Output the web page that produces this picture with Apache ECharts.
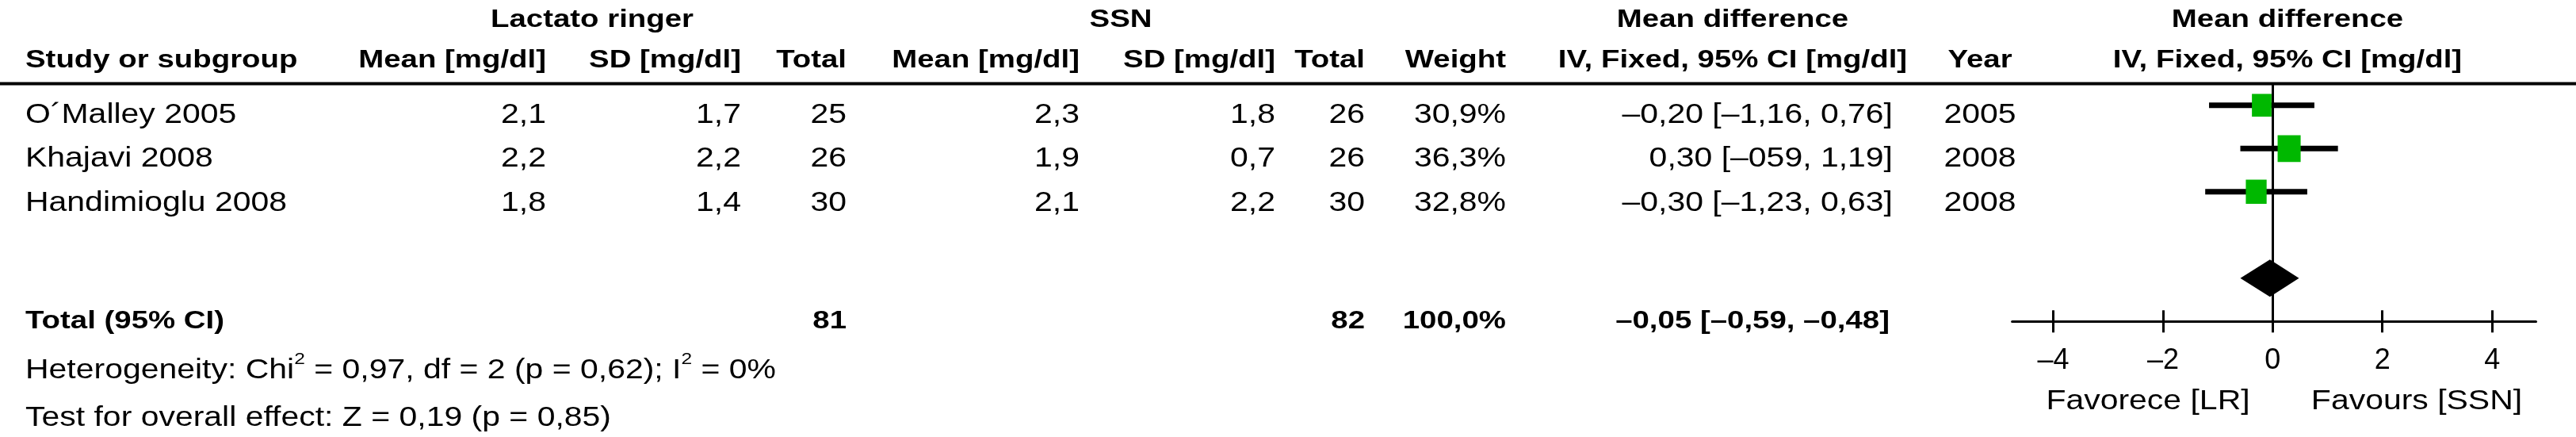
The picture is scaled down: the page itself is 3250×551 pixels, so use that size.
<!DOCTYPE html>
<html>
<head>
<meta charset="utf-8">
<script src="https://cdn.jsdelivr.net/npm/echarts@6/dist/echarts.min.js"></script>
<style>
html,body{margin:0;padding:0;background:#fff;}
#chart{width:3250px;height:551px;}
</style>
</head>
<body>
<div id="chart"></div>
<script>
// ---------- data ----------
const studies   = ['O´Malley 2005', 'Khajavi 2008', 'Handimioglu 2008'];
const lrMean    = [2.1, 2.2, 1.8];
const lrSD      = [1.7, 2.2, 1.4];
const lrTotal   = [25, 26, 30];
const ssnMean   = [2.3, 1.9, 2.1];
const ssnSD     = [1.8, 0.7, 2.2];
const ssnTotal  = [26, 26, 30];
const weights   = [30.9, 36.3, 32.8];
const md        = [-0.20, 0.30, -0.30];
const ciLow     = [-1.16, -0.59, -1.23];
const ciHigh    = [0.76, 1.19, 0.63];
const ciText    = ['–0,20 [–1,16, 0,76]', '0,30 [–059, 1,19]', '–0,30 [–1,23, 0,63]'];
const years     = [2005, 2008, 2008];
const totalLabel = 'Total (95% CI)';
const totalLR   = 81;
const totalSSN  = 82;
const totalWeight = '100,0%';
const totalMD   = -0.05;
const totalLow  = -0.59;
const totalHigh = 0.48;
const totalText = '–0,05 [–0,59, –0,48]';
const heterogeneity = ['Heterogeneity: Chi', '2', ' = 0,97, df = 2 (p = 0,62); I', '2', ' = 0%'];
const overallTest = 'Test for overall effect: Z = 0,19 (p = 0,85)';
const groupHeaders = ['Lactato ringer', 'SSN', 'Mean difference', 'Mean difference'];
const subHeaders = ['Study or subgroup', 'Mean [mg/dl]', 'SD [mg/dl]', 'Total', 'Mean [mg/dl]', 'SD [mg/dl]', 'Total', 'Weight', 'IV, Fixed, 95% CI [mg/dl]', 'Year', 'IV, Fixed, 95% CI [mg/dl]'];
const tickValues = [-4, -2, 0, 2, 4];
const favourLabels = ['Favorece [LR]', 'Favours [SSN]'];

// ---------- layout ----------
const FONT = '"Liberation Sans", Arial, sans-serif';
const REG = 35, BOLD = 32;
const REG_SX = 1.17, BOLD_SX = 1.2;
const colX = [32, 689, 935, 1068, 1362, 1609, 1722, 1900, 2186, 2498, 2886];
const colAlign = ['left', 'right', 'right', 'right', 'right', 'right', 'right', 'right', 'center', 'center', 'center'];
const groupX = [747, 1414, 2186, 2886];
const rowY0 = 145, rowStep = 55.5;
const totalY = 405, hetY = 467, testY = 527.5;
const favourX = [2710, 3049], favourY = 506.5;

function fmt(v, d) { return v.toFixed(d).replace('.', ',').replace('-', '–'); }

function txt(text, x, y, align, bold) {
  return {
    type: 'text', x: x, y: y, silent: true,
    scaleX: bold ? BOLD_SX : REG_SX,
    style: {
      text: text, fill: '#000',
      fontFamily: FONT, fontSize: bold ? BOLD : REG, fontWeight: bold ? 'bold' : 'normal',
      align: align, verticalAlign: 'middle', textAlign: align, textVerticalAlign: 'middle'
    }
  };
}

const graphics = [];
// header rule
graphics.push({ type: 'line', silent: true, shape: { x1: 0, y1: 105.5, x2: 3250, y2: 105.5 }, style: { stroke: '#000', lineWidth: 4 } });
groupHeaders.forEach((t, i) => graphics.push(txt(t, groupX[i], 25, 'center', true)));
subHeaders.forEach((t, i) => graphics.push(txt(t, colX[i], 76, colAlign[i], true)));

studies.forEach((s, i) => {
  const y = rowY0 + i * rowStep;
  const cells = [s, fmt(lrMean[i], 1), fmt(lrSD[i], 1), String(lrTotal[i]),
                 fmt(ssnMean[i], 1), fmt(ssnSD[i], 1), String(ssnTotal[i]),
                 fmt(weights[i], 1) + '%', ciText[i], String(years[i])];
  cells.forEach((c, j) => {
    const x = j === 8 ? 2388 : colX[j];
    const a = j === 8 ? 'right' : colAlign[j];
    graphics.push(txt(c, x, y, a, false));
  });
});

// total row
graphics.push(txt(totalLabel, colX[0], totalY, 'left', true));
graphics.push(txt(String(totalLR), colX[3], totalY, 'right', true));
graphics.push(txt(String(totalSSN), colX[6], totalY, 'right', true));
graphics.push(txt(totalWeight, colX[7], totalY, 'right', true));
graphics.push(txt(totalText, 2384, totalY, 'right', true));

// heterogeneity (rich text with superscripts)
graphics.push({
  type: 'text', x: colX[0], y: hetY, silent: true, scaleX: REG_SX,
  style: {
    text: '{n|' + heterogeneity[0] + '}{s|' + heterogeneity[1] + '}{n|' + heterogeneity[2] + '}{s|' + heterogeneity[3] + '}{n|' + heterogeneity[4] + '}',
    fill: '#000', fontFamily: FONT, fontSize: REG,
    align: 'left', verticalAlign: 'middle', textAlign: 'left', textVerticalAlign: 'middle',
    rich: {
      n: { fontFamily: FONT, fontSize: REG, lineHeight: 48, verticalAlign: 'middle', fill: '#000' },
      s: { fontFamily: FONT, fontSize: 21, lineHeight: 20, verticalAlign: 'top', fill: '#000' }
    }
  }
});
graphics.push(txt(overallTest, colX[0], testY, 'left', false));
favourLabels.forEach((t, i) => graphics.push(txt(t, favourX[i], favourY, 'center', false)));

// ---------- chart ----------
const studyData = studies.map((s, i) => [ciLow[i], ciHigh[i], md[i], i + 1, weights[i]]);
const totalData = [[totalLow, totalHigh, totalMD, 5]];

const gridRect = { left: 2538.6, top: 105.5, width: 660.9, height: 299.8 };
const X_MIN = -4.75, X_MAX = 4.8;

const chart = echarts.init(document.getElementById('chart'), null, { renderer: 'canvas' });
chart.setOption({
  animation: false,
  backgroundColor: '#fff',
  grid: [Object.assign({}, gridRect), Object.assign({}, gridRect)],
  xAxis: [
    {
      type: 'value', gridIndex: 0, min: X_MIN, max: X_MAX, position: 'bottom',
      axisLine: { show: true, onZero: false, lineStyle: { color: '#000', width: 3 } },
      axisTick: { show: true, length: 14, inside: false, customValues: tickValues, lineStyle: { color: '#000', width: 3 } },
      axisLabel: {
        show: true, customValues: tickValues, margin: 32,
        color: '#000', fontFamily: FONT, fontSize: 36,
        formatter: v => String(v).replace('-', '–')
      },
      splitLine: { show: false }
    },
    {
      type: 'value', gridIndex: 1, min: X_MIN, max: X_MAX, position: 'bottom',
      axisLine: { show: false, onZero: false },
      axisTick: { show: true, length: 14, inside: true, customValues: tickValues, lineStyle: { color: '#000', width: 3 } },
      axisLabel: { show: false },
      splitLine: { show: false }
    }
  ],
  yAxis: [
    {
      type: 'value', gridIndex: 0, min: 0.5, max: 6, inverse: true,
      axisLine: { show: true, onZero: true, lineStyle: { color: '#000', width: 3 } },
      axisTick: { show: false }, axisLabel: { show: false }, splitLine: { show: false }
    },
    {
      type: 'value', gridIndex: 1, min: 0.5, max: 6, inverse: true, show: false,
      axisLine: { show: false }, axisTick: { show: false }, axisLabel: { show: false }, splitLine: { show: false }
    }
  ],
  series: [
    {
      type: 'custom', name: 'studies', xAxisIndex: 0, yAxisIndex: 0,
      data: studyData, encode: { x: [0, 1, 2], y: 3 }, z: 5,
      renderItem: function (params, api) {
        const lo = api.coord([api.value(0), api.value(3)]);
        const hi = api.coord([api.value(1), api.value(3)]);
        const c = api.coord([api.value(2), api.value(3)]);
        const w = api.value(4);
        const sw = w * 0.8, sh = w * 0.93;
        return {
          type: 'group', children: [
            { type: 'line', shape: { x1: lo[0], y1: lo[1], x2: hi[0], y2: hi[1] }, style: { stroke: '#000', lineWidth: 7 } },
            { type: 'rect', shape: { x: c[0] - sw / 2, y: c[1] - sh / 2, width: sw, height: sh }, style: { fill: '#00b800' } }
          ]
        };
      }
    },
    {
      type: 'custom', name: 'total', xAxisIndex: 0, yAxisIndex: 0,
      data: totalData, encode: { x: [0, 1, 2], y: 3 }, z: 5,
      renderItem: function (params, api) {
        const lo = api.coord([api.value(0), api.value(3)]);
        const hi = api.coord([api.value(1), api.value(3)]);
        const c = api.coord([api.value(2), api.value(3)]);
        const h = 23.5;
        return {
          type: 'polygon',
          shape: { points: [[lo[0], lo[1]], [c[0], c[1] - h], [hi[0], hi[1]], [c[0], c[1] + h]] },
          style: { fill: '#000' }
        };
      }
    }
  ],
  graphic: graphics
});
</script>
</body>
</html>
